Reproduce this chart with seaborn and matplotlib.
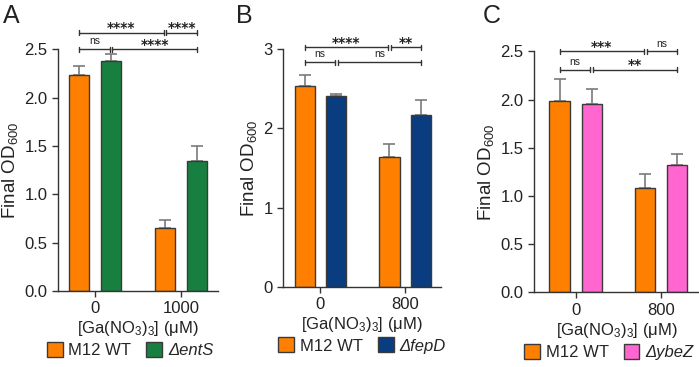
import numpy as np
import pandas as pd
import matplotlib
matplotlib.use('Agg')
import matplotlib.pyplot as plt
from matplotlib.patches import Patch
from matplotlib.container import BarContainer
import seaborn as sns

# Data
conc_a = ['0', '1000']
conc_b = ['0', '800']
conc_c = ['0', '800']
strains_a = ['M12 WT', '\u0394entS']
strains_b = ['M12 WT', '\u0394fepD']
strains_c = ['M12 WT', '\u0394ybeZ']

wt_a = [2.23, 0.65]
mut_a = [2.38, 1.34]
wt_a_err = [0.10, 0.08]
mut_a_err = [0.07, 0.16]

wt_b = [2.53, 1.64]
mut_b = [2.41, 2.17]
wt_b_err = [0.14, 0.16]
mut_b_err = [0.02, 0.18]

wt_c = [1.99, 1.08]
mut_c = [1.95, 1.32]
wt_c_err = [0.22, 0.15]
mut_c_err = [0.16, 0.12]

# bracket: (bar i, bar j, level, label); bars ordered WT0, mut0, WT1, mut1
brackets_a = [(0, 2, 1, '****'), (2, 3, 1, '****'), (0, 1, 0, 'ns'), (1, 3, 0, '****')]
brackets_b = [(0, 2, 1, '****'), (2, 3, 1, '**'), (0, 1, 0, 'ns'), (1, 3, 0, 'ns')]
brackets_c = [(0, 2, 1, '***'), (2, 3, 1, 'ns'), (0, 1, 0, 'ns'), (1, 3, 0, '**')]
levels_a = [2.50, 2.67]
levels_b = [2.83, 3.02]
levels_c = [2.31, 2.50]

orange = '#FF8000'
colors_mut = ['#178040', '#0A3C80', '#FF66D0']

sns.set_style('ticks')
plt.rcParams['font.family'] = ['Liberation Sans', 'DejaVu Sans']
plt.rcParams['mathtext.fontset'] = 'custom'
plt.rcParams['mathtext.rm'] = 'Liberation Sans'
plt.rcParams['mathtext.it'] = 'Liberation Sans:italic'

fig = plt.figure(figsize=(6.99, 3.67), dpi=100)
positions = [[0.083, 0.207, 0.229, 0.659],
             [0.405, 0.218, 0.226, 0.649],
             [0.764, 0.203, 0.236, 0.657]]
xlims = [(-0.43, 1.43), (-0.44, 1.42), (-0.485, 1.44)]
legend_x = [0.45, 0.5, 0.452]

panels = [
    ('A', conc_a, strains_a, wt_a, mut_a, wt_a_err, mut_a_err, brackets_a, levels_a, 2.5, np.arange(0, 2.51, 0.5), '%.1f'),
    ('B', conc_b, strains_b, wt_b, mut_b, wt_b_err, mut_b_err, brackets_b, levels_b, 3.0, np.arange(0, 3.1, 1), '%d'),
    ('C', conc_c, strains_c, wt_c, mut_c, wt_c_err, mut_c_err, brackets_c, levels_c, 2.5, np.arange(0, 2.51, 0.5), '%.1f'),
]

letter_x = [0.004, 0.337, 0.690]

for k, (letter, conc, strains, wt, mut, wt_err, mut_err, brs, lev, ymax, yt, fmt) in enumerate(panels):
    ax = fig.add_axes(positions[k])
    df = pd.DataFrame({
        'conc': conc * 2,
        'strain': [strains[0]] * 2 + [strains[1]] * 2,
        'od': wt + mut,
    })
    pal = {strains[0]: orange, strains[1]: colors_mut[k]}
    sns.barplot(data=df, x='conc', y='od', hue='strain', hue_order=strains,
                order=conc, palette=pal, width=0.75, gap=0.37, errorbar=None,
                edgecolor='#3a3a3a', linewidth=1.0, saturation=1, legend=False, ax=ax)
    errs = [wt_err, mut_err]
    centers = {}
    bar_conts = [c for c in ax.containers if isinstance(c, BarContainer)]
    for h, cont in enumerate(bar_conts):
        xs = [b.get_x() + b.get_width() / 2 for b in cont]
        ys = [b.get_height() for b in cont]
        ax.errorbar(xs, ys, yerr=[np.zeros(len(ys)), errs[h]], fmt='none',
                    ecolor='#7a7a7a', elinewidth=1.2, capsize=4, capthick=1.2, zorder=0.5)
        for c, x in enumerate(xs):
            centers[c * 2 + h] = x

    ax.set_xlim(*xlims[k])
    ax.set_ylim(0, ymax)
    ax.set_yticks(yt)
    ax.set_yticklabels([fmt % v for v in yt])
    ax.tick_params(labelsize=12, length=4, width=1, color='#333333', labelcolor='#222222')
    for s in ['left', 'bottom']:
        ax.spines[s].set_color('#333333')
        ax.spines[s].set_linewidth(1.0)
    sns.despine(ax=ax)
    ax.set_ylabel('Final OD$_{600}$', fontsize=13.5, labelpad=3, color='#222222')
    ax.set_xlabel('[Ga(NO$_3$)$_3$] (\u03bcM)', fontsize=12, labelpad=2, color='#222222')

    # significance brackets
    tick_h = 0.011 * ymax
    gap = 0.015
    for (i, j, lvl, lab) in brs:
        x1, x2 = centers[i], centers[j]
        y = lev[lvl]
        # shorten where another bracket on the same level meets this one
        for (i2, j2, l2, _) in brs:
            if l2 == lvl and (i2, j2) != (i, j):
                if j2 == i:
                    x1 += gap
                if i2 == j:
                    x2 -= gap
        ax.plot([x1, x2], [y, y], color='#333333', lw=1.0, clip_on=False)
        ax.plot([x1, x1], [y - tick_h, y + tick_h], color='#333333', lw=1.0, clip_on=False)
        ax.plot([x2, x2], [y - tick_h, y + tick_h], color='#333333', lw=1.0, clip_on=False)
        xc = (x1 + x2) / 2
        if lab == 'ns':
            ax.annotate(lab, xy=(xc, y), xytext=(0, 3.5), textcoords='offset points',
                        ha='center', va='baseline', fontsize=7.5, color='#222222',
                        annotation_clip=False)
        else:
            ax.annotate(lab, xy=(xc, y), xytext=(0, 0.3), textcoords='offset points',
                        ha='center', va='baseline', fontsize=10, fontweight='bold',
                        family='DejaVu Sans', color='#222222', annotation_clip=False)

    handles = [Patch(facecolor=orange, edgecolor='#3a3a3a', linewidth=1.0),
               Patch(facecolor=colors_mut[k], edgecolor='#3a3a3a', linewidth=1.0)]
    leg = ax.legend(handles, strains, loc='upper center', bbox_to_anchor=(legend_x[k], -0.212),
                    ncol=2, frameon=False, fontsize=12, handlelength=0.95, handleheight=1.0,
                    handletextpad=0.35, columnspacing=0.9, borderaxespad=0, borderpad=0)
    leg.get_texts()[1].set_fontstyle('italic')

    fig.text(letter_x[k], 0.99, letter, fontsize=18, va='top', ha='left', color='#222222')

fig.savefig('out.png', dpi=100)
